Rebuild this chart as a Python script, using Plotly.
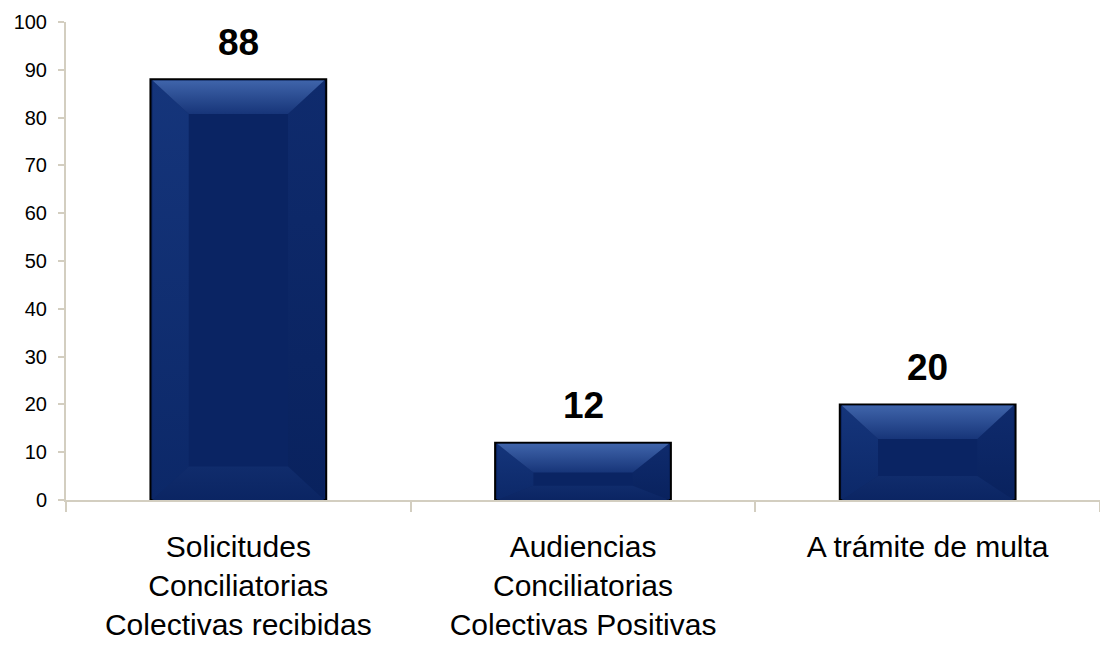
import plotly.graph_objects as go

categories = [
    "Solicitudes<br>Conciliatorias<br>Colectivas recibidas",
    "Audiencias<br>Conciliatorias<br>Colectivas Positivas",
    "A trámite de multa",
]
values = [88, 12, 20]
y_ticks = list(range(0, 101, 10))

FONT = "Liberation Sans, Arial, sans-serif"
AXIS_COLOR = "#D3CEC0"
BAR_CENTER = "#0A2463"
BAR_WIDTH = 0.51
BEVEL_X = 0.105     # category units
BEVEL_Y = 7.0       # value units

fig = go.Figure()

fig.add_trace(go.Bar(
    x=categories, y=values, width=BAR_WIDTH,
    marker=dict(color=BAR_CENTER, line=dict(color="#000000", width=2)),
    hoverinfo="skip", showlegend=False,
))

# bevel overlays computed from the data values
for i, v in enumerate(values):
    x0 = i - BAR_WIDTH / 2 + 0.006
    x1 = i + BAR_WIDTH / 2 - 0.006
    y0 = 0
    y1 = v - 0.25
    top = min(BEVEL_Y, 0.5 * v)
    bot = min(BEVEL_Y, 0.25 * v)
    xi0, xi1 = x0 + BEVEL_X, x1 - BEVEL_X
    yt, yb = y1 - top, y0 + bot
    polys = [
        ([x0, xi0, xi0, x0, x0], [y0, yb, yt, y1, y0], ["#0C2868", "#15357B"]),
        ([x1, xi1, xi1, x1, x1], [y0, yb, yt, y1, y0], ["#09225E", "#0F2B6D"]),
        ([x0, x1, xi1, xi0, x0], [y0, y0, yb, yb, y0], ["#0B2563", "#102C6C"]),
        ([x0, x1, xi1, xi0, x0], [y1, y1, yt, yt, y1], ["#173579", "#3F64AA"]),
    ]
    for xs, ys, cs in polys:
        fig.add_trace(go.Scatter(
            x=xs, y=ys, mode="lines", fill="toself",
            line=dict(width=0, color="rgba(0,0,0,0)"),
            fillgradient=dict(type="vertical", colorscale=[[0, cs[0]], [1, cs[1]]]),
            hoverinfo="skip", showlegend=False, xaxis="x2",
        ))

for c, v in zip(categories, values):
    fig.add_annotation(
        x=c, y=v, text=f"<b>{v}</b>", showarrow=False,
        yanchor="middle", yshift=37,
        font=dict(family=FONT, size=37, color="#000000"),
    )

fig.update_layout(
    width=1100, height=645,
    margin=dict(l=66, r=0, t=22, b=145),
    paper_bgcolor="white", plot_bgcolor="white",
    font=dict(family=FONT, color="#000000"),
    xaxis=dict(
        type="category", range=[-0.5, 2.5], automargin=False,
        showline=True, linecolor=AXIS_COLOR, linewidth=2,
        ticks="outside", tickson="boundaries", ticklen=10, tickcolor=AXIS_COLOR, tickwidth=2,
        tickfont=dict(family=FONT, size=30, color="#000000"),
        ticklabelstandoff=19,
        showgrid=False, zeroline=False,
    ),
    xaxis2=dict(
        overlaying="x", range=[-0.5, 2.5], visible=False,
    ),
    yaxis=dict(
        range=[0, 100], tickvals=y_ticks, automargin=False,
        showline=True, linecolor=AXIS_COLOR, linewidth=2,
        ticks="outside", ticklen=6, tickcolor=AXIS_COLOR, tickwidth=2,
        tickfont=dict(family=FONT, size=20, color="#000000"),
        ticklabelstandoff=7,
        showgrid=False, zeroline=False,
    ),
)

fig.write_html(
    "out.html",
    config={"displayModeBar": False},
    post_script="document.body.style.margin='0';",
)
